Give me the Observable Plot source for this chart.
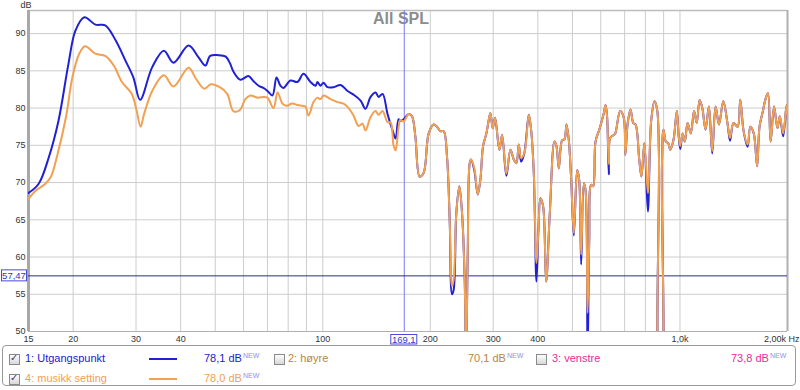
<!DOCTYPE html>
<html><head><meta charset="utf-8">
<script src="https://cdn.jsdelivr.net/npm/d3@7"></script>
<script src="https://cdn.jsdelivr.net/npm/@observablehq/plot@0.6"></script>
<style>
body{margin:0;background:#fff;font-family:"Liberation Sans",Arial,sans-serif;}
#wrap{position:relative;width:800px;height:390px;overflow:hidden;}
#chart svg{display:block;}
#legend{position:absolute;left:2px;top:345px;width:794px;height:41px;border:1px solid #9a9a9a;border-radius:4px;font-size:11px;box-sizing:border-box;}
.cb{position:absolute;width:9px;height:9px;border:1px solid #8a8a8a;background:linear-gradient(#fdfdfd,#d8d8d8);}
.cb span{position:absolute;left:0px;top:-3px;font-size:10px;color:#3a3a5a;line-height:12px;}
.t{position:absolute;white-space:nowrap;line-height:13px;}
.sw{position:absolute;height:2px;width:28px;}
.t sup{font-size:7px;vertical-align:top;position:relative;top:-3px;color:#8f8fef;margin-left:1px;}
</style></head>
<body>
<div id="wrap"><div id="chart"></div><div id="legend"></div></div>
<script>
// ---------- data ----------
const freqBlueLow = [15,16,17.1,18.2,19.4,20.3,21.5,23.1,24.6,26.3,
  28,29.5,30.8,33.3,35.9,38.2,42.1,44.9,46.9,48.4,
  51,53.5,55,56.2,58.8,61.9,64.0,66.1,68.2,70.0,
  72.3,74.2,76.1,77.6,81.2,84.9,88.3,92.4,95.4,96.6,
  98.5,100.5,103.1,107.2,112.1,117.3,121.9,127.6,131.7,136.1,
  140.5,143.3,147.0,151.8,156.8,159.9,163.0,165,168.4];
const blueLow = [68.6,69.8,73.4,78.3,85.9,90.4,92.2,91.2,91.1,89.1,
  86.4,84.1,81.1,85.5,87.7,86.1,88.4,86.8,85.7,87.0,
  87.1,86.9,86.0,84.9,83.8,84.3,83.6,83.0,82.7,82.3,
  81.7,84.1,83.0,82.7,83.7,83.5,84.6,83.5,83.0,83.5,
  83.0,83.4,82.8,82.8,83.1,82.3,81.8,81.0,79.9,81.5,
  82.1,81.5,81.9,79.2,77.0,75.9,78.5,78.3,78.5];
const freqOrangeLow = [15,15.7,16.7,17.3,18.0,19.1,19.9,20.8,21.6,23.1,
  24.6,26.0,27.4,29.2,30.1,30.9,31.6,33.3,35.9,38.2,
  42.1,44.2,46.6,48.6,51.5,54,56.2,58.5,60.7,62.7,
  65.6,68.2,70.0,72.8,74.7,77.1,79,82.2,85,87.7,
  89.4,91.2,94.2,96.6,98.5,100.5,105.1,110.0,114.3,118.1,
  121.9,125.9,129.2,131.7,136.1,140.5,143.3,147.0,151.8,154.8,
  157.8,159.9,163.0,164.8,168.4];
const orangeLow = [67.8,68.9,69.8,70.7,73.4,78.8,84.1,87.3,88.3,87.3,
  87.0,85.7,83.5,81.9,79.7,77.5,79.2,82.3,84.4,82.9,
  85.4,83.9,82.6,83.2,82.8,81.9,79.6,79.7,81.2,81.7,
  81.4,81.5,81.4,80.0,82.1,80.6,80.3,80.6,80.4,80.3,
  80.2,79.0,80.8,81.4,81.2,81.7,81.2,80.8,80.6,80.0,
  79.0,77.6,77.9,77.0,78.8,79.6,79.1,79.6,78.1,78.1,
  75.0,74.3,77.4,78.4,78.2];
const freqHigh = [173.9,177.7,181.6,186.7,191.6,197.9,204.4,208.8,213.3,218.0,
  222.7,226.6,230.0,232.5,236.5,241.2,245.4,249.6,251.8,254.5,
  257.8,260.0,265.7,271.5,276.2,281.0,287.1,291.5,294.6,299.1,
  303.6,312.2,317.7,326.6,335.2,342.5,348.4,353.7,359.1,366.9,
  377.3,383.0,389.7,396.4,401.6,406.8,413.9,422.0,432.1,445.3,
  451.0,457.9,467.9,475.0,481.1,488.4,495.9,504.5,515.4,522.1,
  528.9,538.1,543.9,551.0,557.0,564.1,571.5,580.1,595.3,612,
  619,625,632,638,653,659,680,696,703,714,
  727,740,751,769,780,795,813,831,849,863,
  873,878,886,890,899,913,927,939,959,980,
  991,1002,1017,1032,1050,1072,1095,1114,1135,1155,
  1179,1205,1231,1258,1286,1322,1358,1381,1412,1450,
  1475,1507,1547,1574,1609,1644,1670,1707,1733,1763,
  1794,1834,1874,1903,1945,1988,2010];
const orangeHigh = [79.2,78.9,76.2,70.8,71.3,76.6,77.8,77.5,76.9,76.9,
  73.5,65.0,56.1,57.0,65.9,69.5,65.9,57.0,46,60,
  72.6,73.1,71.9,68.4,70.4,74.9,76.6,78.4,79.3,77.3,
  78.7,74.4,76.4,71.2,74.4,73.1,72.6,75.1,73.3,74.0,
  79.1,77.1,71.3,59.2,63.7,67.9,66.8,56.7,65.9,75.5,
  74.9,71.9,75.7,75.8,77.8,75.7,70.4,63.2,71.7,70.4,
  60.3,69.9,69.0,52.5,62,69.7,69.5,75.5,77.2,79.3,
  80.4,78.9,72.5,76.0,76.4,76.6,79.6,78.7,73.7,78.0,
  79.8,78.0,77.8,73.1,70.8,75.3,68.6,78.4,80.9,79.8,
  74,42,42,72,77.1,75.5,75.3,74.4,75.7,79.6,
  76.4,74.9,76.6,75.5,78.0,76.6,79.6,78.0,81.1,80.0,
  77.1,80.2,74.2,80.2,77.8,80.9,78.0,76.0,78.0,77.5,
  81.1,76.9,75.1,77.5,76.6,72.2,77.5,79.6,81.1,82.0,
  75.5,80.2,77.3,78.9,76.6,80.4,76.6];
const blueHigh = [79.2,78.9,76.2,70.8,71.3,76.6,77.8,77.5,76.9,76.9,
  73.5,65.0,55.0,55.6,65.9,69.5,65.9,57.0,46,60,
  72.6,73.1,71.6,68.4,70.4,74.9,76.6,78.4,79.3,77.3,
  78.7,74.4,76.4,70.9,74.4,73.1,72.6,75.1,72.8,74.0,
  79.1,77.1,71.3,56.7,63.7,67.9,66.8,56.7,65.9,75.5,
  74.9,71.9,75.7,75.8,77.8,75.7,70.4,62.9,71.7,70.4,
  59.0,69.9,69.0,46,62,69.7,69.5,75.5,77.2,79.3,
  80.4,78.9,71.1,76.0,76.4,76.6,79.6,78.7,73.7,78.0,
  79.8,78.0,77.8,73.1,70.8,75.3,66.1,78.4,80.9,79.8,
  74,42,42,72,77.1,75.5,75.3,74.4,75.7,79.6,
  76.4,74.5,76.6,75.5,78.0,76.6,79.6,78.0,81.1,80.0,
  77.1,80.2,73.9,80.2,77.8,80.9,78.0,75.6,78.0,77.5,
  81.1,76.9,74.8,77.5,76.6,72.2,77.5,79.6,81.1,82.0,
  75.5,80.2,77.3,78.9,76.2,80.4,76.6];

const xTicks = [15,20,30,40,50,60,70,80,90,100,200,300,400,500,600,700,800,1000];
const xTickLabels = ["15","20","30","40","50","60","70","80","90","100","200","300","400","500","600","700","800","1,0k"];
const xGrid = [20,30,40,50,60,70,80,90,100,200,300,400,500,600,700,800,900,1000];
const yTicks = [50,55,60,65,70,75,80,85,90];
const cursorFreq = 169.1, cursorDb = 57.47;
const series = [
  {name:"1: Utgangspunkt", value:"78,1 dB", color:"#2020d4", checked:true},
  {name:"2: høyre", value:"70,1 dB", color:"#b8863c", checked:false},
  {name:"3: venstre", value:"73,8 dB", color:"#e52c9c", checked:false},
  {name:"4: musikk setting", value:"78,0 dB", color:"#f2a052", checked:true}
];

// ---------- tables ----------
const zipRows = (fs, vs) => fs.map((f, i) => ({f, db: vs[i]}));
const blueData = zipRows(freqBlueLow, blueLow).concat(zipRows(freqHigh, blueHigh));
const orangeData = zipRows(freqOrangeLow, orangeLow).concat(zipRows(freqHigh, orangeHigh));
const labelMap = new Map(xTicks.map((t, i) => [t, xTickLabels[i]]));

const chart = Plot.plot({
  width: 800, height: 345,
  marginLeft: 28, marginRight: 13, marginTop: 10, marginBottom: 14,
  style: {fontFamily: "Liberation Sans, Arial, sans-serif", fontSize: "9px", color: "#333", background: "#fff", overflow: "visible"},
  x: {type: "log", domain: [15, 2000], label: null},
  y: {domain: [50, 93.1], label: null},
  marks: [
    Plot.gridX(xGrid, {stroke: "#cdcdcd", strokeOpacity: 1}),
    Plot.gridY(yTicks.slice(1), {stroke: "#cdcdcd", strokeOpacity: 1}),
    Plot.axisX(xTicks, {tickSize: 0, tickPadding: 4, tickFormat: d => labelMap.get(d), fill: "#333", fontSize: 9}),
    Plot.text(["2,00k Hz"], {x: () => 2000, frameAnchor: "bottom", dy: 4, lineAnchor: "top", textAnchor: "end", dx: 12, fill: "#333", fontSize: 9}),
    Plot.axisY(yTicks, {tickSize: 0, tickPadding: 3, fill: "#333", fontSize: 9}),
    Plot.text(["dB"], {frameAnchor: "top-left", dx: -8, dy: -9, lineAnchor: "top", fill: "#333", fontSize: 9}),
    Plot.ruleY([93.1], {stroke: "#bdbdbd", strokeWidth: 1.5}),
    Plot.ruleY([50], {stroke: "#b0b0b0", strokeWidth: 1}),
    Plot.ruleX([2000], {stroke: "#b0b0b0", strokeWidth: 2}),
    Plot.ruleX([15], {stroke: "#a8a8a8", strokeWidth: 3}),
    Plot.text(["All SPL"], {frameAnchor: "top", dx: -7, dy: 2, lineAnchor: "top", fontSize: 16, fontWeight: "bold", fill: "#8c8c8c"}),
    Plot.ruleX([cursorFreq], {stroke: "#7a7af2", strokeWidth: 1}),
    Plot.ruleY([cursorDb], {stroke: "#2a2a9c", strokeWidth: 1}),
    Plot.line(blueData, {x: "f", y: "db", stroke: series[0].color, strokeWidth: 2, curve: "catmull-rom", clip: true}),
    Plot.line(orangeData, {x: "f", y: "db", stroke: series[3].color, strokeWidth: 2, curve: "catmull-rom", clip: true})
  ]
});
document.getElementById("chart").appendChild(chart);

// cursor value boxes, positioned through the chart's scales
const svg = d3.select(chart);
const px = chart.scale("x").apply(cursorFreq);
const py = chart.scale("y").apply(cursorDb);
const gx = svg.append("g");
gx.append("rect").attr("x", px - 13).attr("y", 334.5).attr("width", 26).attr("height", 9.5)
  .attr("fill", "#fff").attr("stroke", "#4a4ad8").attr("stroke-width", 1);
gx.append("text").attr("x", px).attr("y", 342.5).attr("text-anchor", "middle")
  .attr("font-size", 9.5).attr("fill", "#3636c8").text("169,1");
const gy = svg.append("g");
gy.append("rect").attr("x", 1.5).attr("y", py - 5.5).attr("width", 25).attr("height", 11)
  .attr("fill", "#fff").attr("stroke", "#4a4ad8").attr("stroke-width", 1);
gy.append("text").attr("x", 14).attr("y", py + 3.5).attr("text-anchor", "middle")
  .attr("font-size", 9.5).attr("fill", "#3636c8").text("57,47");

// legend
const lg = document.getElementById("legend");
const place = [
  {cb:[6,7.5], name:[22,6], sw:null, val:[201,5]},
  {cb:[271,7.5], name:[285,6], sw:null, val:[465,5]},
  {cb:[533,7.5], name:[549,6], sw:null, val:[728,5]},
  {cb:[6,27.5], name:[22,26], sw:null, val:[201,25]}
];
series.forEach((s, i) => {
  const p = place[i];
  const cb = document.createElement("div");
  cb.className = "cb"; cb.style.left = p.cb[0] + "px"; cb.style.top = p.cb[1] + "px";
  if (s.checked) { const m = document.createElement("span"); m.textContent = "✓"; cb.appendChild(m); }
  lg.appendChild(cb);
  const nm = document.createElement("div");
  nm.className = "t"; nm.style.left = p.name[0] + "px"; nm.style.top = p.name[1] + "px"; nm.style.color = s.color;
  nm.textContent = s.name; lg.appendChild(nm);
  if (s.checked) {
    const sw = document.createElement("div");
    sw.className = "sw"; sw.style.left = "146px"; sw.style.top = (p.cb[1] + 4) + "px"; sw.style.background = s.color;
    lg.appendChild(sw);
  }
  const v = document.createElement("div");
  v.className = "t"; v.style.left = p.val[0] + "px"; v.style.top = (p.val[1] + 1) + "px"; v.style.color = s.color;
  v.innerHTML = s.value + "<sup>NEW</sup>"; lg.appendChild(v);
});
</script>
</body></html>
